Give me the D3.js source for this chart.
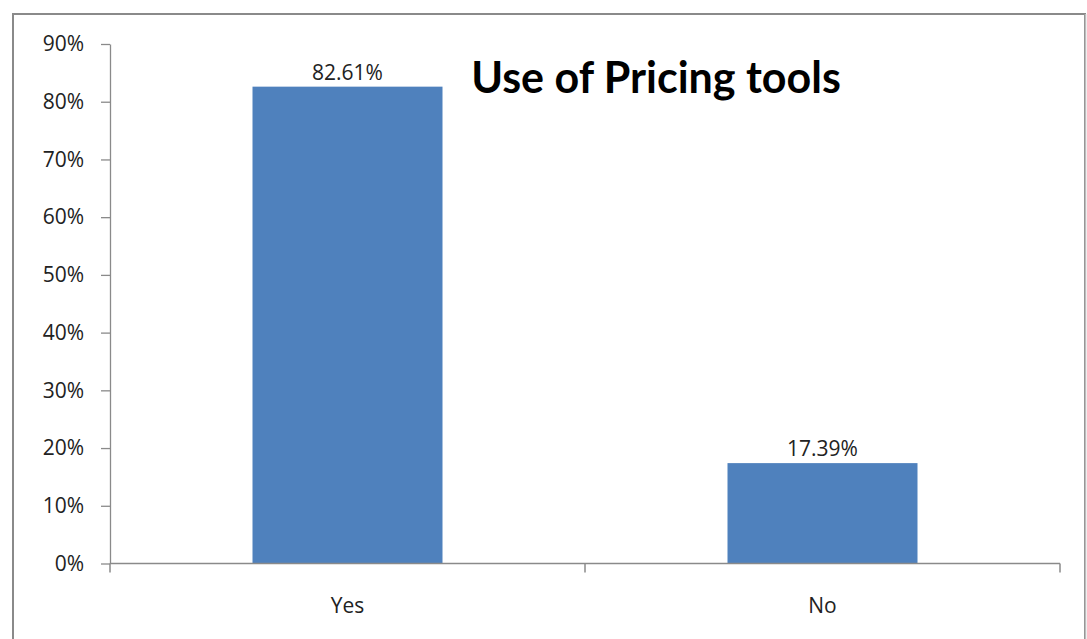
<!DOCTYPE html>
<html><head><meta charset="utf-8">
<script src="https://cdn.jsdelivr.net/npm/d3@7"></script>
<style>body{margin:0;background:#fff;} svg{display:block;}</style>
</head><body>
<svg id="c" width="1087" height="639"></svg>
<script>
const categories = ["Yes", "No"];
const values = [82.61, 17.39];
const valueLabels = ["82.61%", "17.39%"];
const yTicks = [0, 10, 20, 30, 40, 50, 60, 70, 80, 90];
const title = "Use of Pricing tools";

const svg = d3.select("#c");
const font = "'Open Sans', sans-serif";
const titleFont = "Lato, sans-serif";
// outer border
svg.append("rect").attr("x", 13).attr("y", 14).attr("width", 1072).attr("height", 640)
  .attr("fill", "#fff").attr("stroke", "#8a8a8a").attr("stroke-width", 2);
svg.append("line").attr("x1",1085.5).attr("x2",1085.5).attr("y1",14).attr("y2",639).attr("stroke","#bdbdbd").attr("stroke-width",1.5);

const x0 = 110, x1 = 1060, yTop = 44, yBot = 563.5;
const x = d3.scaleBand().domain(categories).range([x0, x1]).paddingInner(0.6).paddingOuter(0.3);
const y = d3.scaleLinear().domain([0, 90]).range([yBot, yTop]);

// bars
svg.selectAll("rect.bar").data(values).join("rect").attr("class","bar")
  .attr("x", (d,i) => x(categories[i])).attr("width", x.bandwidth())
  .attr("y", d => y(d)).attr("height", d => y(0) - y(d)).attr("fill", "#4F81BD");

// value labels
svg.selectAll("text.vl").data(values).join("text").attr("class","vl")
  .attr("x", (d,i) => x(categories[i]) + x.bandwidth()/2).attr("y", d => y(d) - 7)
  .attr("text-anchor","middle").attr("font-family", font).attr("font-size", 21).attr("fill","#222")
  .text((d,i) => valueLabels[i]);

// y axis
const gy = svg.append("g").attr("transform", `translate(${x0},0)`)
  .call(d3.axisLeft(y).tickValues(yTicks).tickFormat(d => d + "%").tickSize(9).tickSizeOuter(0).tickPadding(17));
gy.selectAll("line,path").attr("stroke", "#8a8a8a").attr("stroke-width", 1.3);
gy.selectAll("text").attr("font-family", font).attr("font-size", 21).attr("fill", "#222");

// x axis
const gx = svg.append("g").attr("transform", `translate(0,${yBot})`);
gx.append("line").attr("x1", x0).attr("x2", x1).attr("stroke", "#8a8a8a").attr("stroke-width", 1.5);
const bounds = [x0, (x0 + x1)/2, x1];
gx.selectAll("line.t").data(bounds).join("line").attr("class","t")
  .attr("x1", d => d).attr("x2", d => d).attr("y1", 0).attr("y2", 9).attr("stroke", "#8a8a8a").attr("stroke-width", 1.5);
gx.selectAll("text").data(categories).join("text")
  .attr("x", d => x(d) + x.bandwidth()/2).attr("y", 49).attr("text-anchor","middle")
  .attr("font-family", font).attr("font-size", 21).attr("fill","#222").text(d => d);

// title
svg.append("text").attr("x", 656).attr("y", 93).attr("text-anchor","middle")
  .attr("font-family", titleFont).attr("font-weight","bold").attr("font-size", 43).attr("fill","#000").text(title);
</script>
</body></html>
